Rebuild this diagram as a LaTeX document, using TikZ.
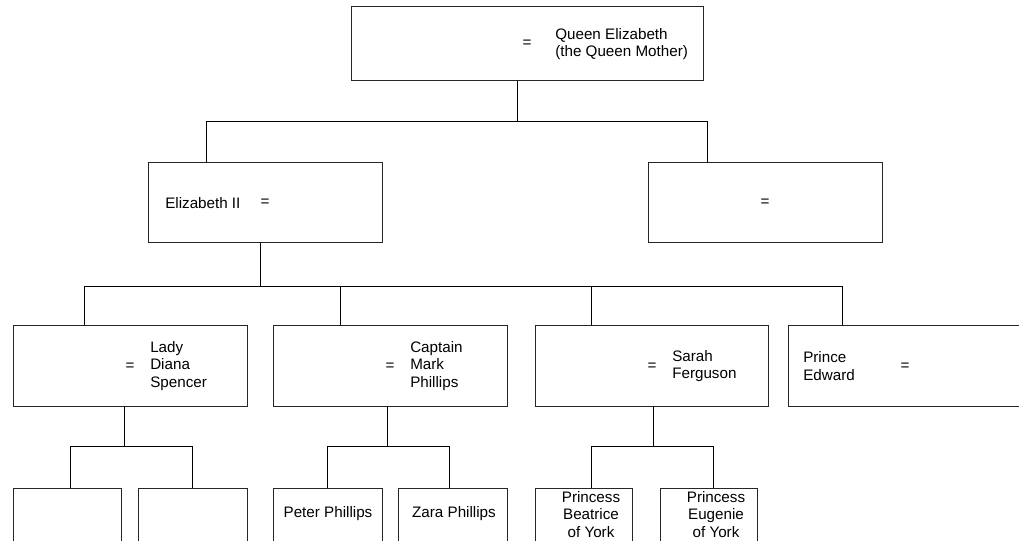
\documentclass[tikz,border=0pt]{standalone}
\usepackage{fontspec}
\setmainfont{Liberation Sans}
\begin{document}
\begin{tikzpicture}[x=0.75pt,y=-0.75pt,
  box/.style 2 args={draw=black!85, line width=0.75pt, rectangle, inner sep=0pt, outer sep=0pt,
    minimum width=#1*0.75pt, minimum height=#2*0.75pt},
  txt/.style={inner sep=0pt, font=\fontsize{11.4}{13.1}\selectfont, align=left, anchor=west},
  ctxt/.style={inner sep=0pt, font=\fontsize{11.4}{13.1}\selectfont, align=center},
  eq/.style={inner sep=0pt, font=\fontsize{11.4}{13.1}\selectfont},
  link/.style={draw=black, line width=0.75pt}]
\clip (0,0) rectangle (1019,541);
\fill[white] (0,0) rectangle (1019,541);
% boxes
\node[box={352}{74}] (top) at (527,44) {};
\node[box={234}{80}] (eliz) at (265,203) {};
\node[box={234}{80}] (right) at (765,203) {};
\node[box={234}{81}] (k1) at (130,365.5) {};
\node[box={234}{81}] (k2) at (390,365.5) {};
\node[box={233}{81}] (k3) at (651.5,365.5) {};
\node[box={234}{81}] (k4) at (905,365.5) {};
\node[box={108}{72}] (g1) at (67,524) {};
\node[box={109}{72}] (g2) at (192.5,524) {};
\node[box={109}{72}] (g3) at (327.5,524) {};
\node[box={109}{72}] (g4) at (452.5,524) {};
\node[box={97}{72}] (g5) at (583.5,524) {};
\node[box={97}{72}] (g6) at (708.5,524) {};
% texts
\node[eq] (e0) at (527,44) {=};
\node[txt] (t0) at (555,44) {Queen Elizabeth\\(the Queen Mother)};
\node[txt] (t1) at (165,203) {Elizabeth II};
\node[eq] (e1) at (265,203) {=};
\node[eq] (e2) at (765,203) {=};
\node[eq] (e3) at (130,367) {=};
\node[txt] (t3) at (150,366) {Lady\\Diana\\Spencer};
\node[eq] (e4) at (390,367) {=};
\node[txt] (t4) at (410,366) {Captain\\Mark\\Phillips};
\node[eq] (e5) at (652,367) {=};
\node[txt] (t5) at (672,366) {Sarah\\Ferguson};
\node[txt] (t6) at (803,366) {Prince\\Edward};
\node[eq] (e6) at (905,367) {=};
\node[ctxt] (t7) at (328,514) {Peter Phillips};
\node[ctxt] (t8) at (454,514) {Zara Phillips};
\node[ctxt] (t9) at (591,514.5) {Princess\\Beatrice\\of York};
\node[ctxt] (t10) at (716,514.5) {Princess\\Eugenie\\of York};
% junctions
\coordinate (j0) at (517,122);
\coordinate (j0a) at (206,122);
\coordinate (j0b) at (707,122);
\coordinate (j1) at (260,286);
\coordinate (j1a) at (84,286);
\coordinate (j1b) at (340,286);
\coordinate (j1c) at (591,286);
\coordinate (j1d) at (842,286);
\coordinate (j2) at (124,446);
\coordinate (j2a) at (70,446);
\coordinate (j2b) at (192,446);
\coordinate (j3) at (387,446);
\coordinate (j3a) at (327,446);
\coordinate (j3b) at (449,446);
\coordinate (j4) at (653,446);
\coordinate (j4a) at (591,446);
\coordinate (j4b) at (713,446);
% connectors
\draw[link] (top.south -| j0) -- (j0);
\draw[link] (eliz.north -| j0a) -- (j0a) -- (j0b) -- (right.north -| j0b);
\draw[link] (eliz.south -| j1) -- (j1);
\draw[link] (k1.north -| j1a) -- (j1a) -- (j1d) -- (k4.north -| j1d);
\draw[link] (k2.north -| j1b) -- (j1b);
\draw[link] (k3.north -| j1c) -- (j1c);
\draw[link] (k1.south -| j2) -- (j2);
\draw[link] (g1.north -| j2a) -- (j2a) -- (j2b) -- (g2.north -| j2b);
\draw[link] (k2.south -| j3) -- (j3);
\draw[link] (g3.north -| j3a) -- (j3a) -- (j3b) -- (g4.north -| j3b);
\draw[link] (k3.south -| j4) -- (j4);
\draw[link] (g5.north -| j4a) -- (j4a) -- (j4b) -- (g6.north -| j4b);
\end{tikzpicture}
\end{document}
